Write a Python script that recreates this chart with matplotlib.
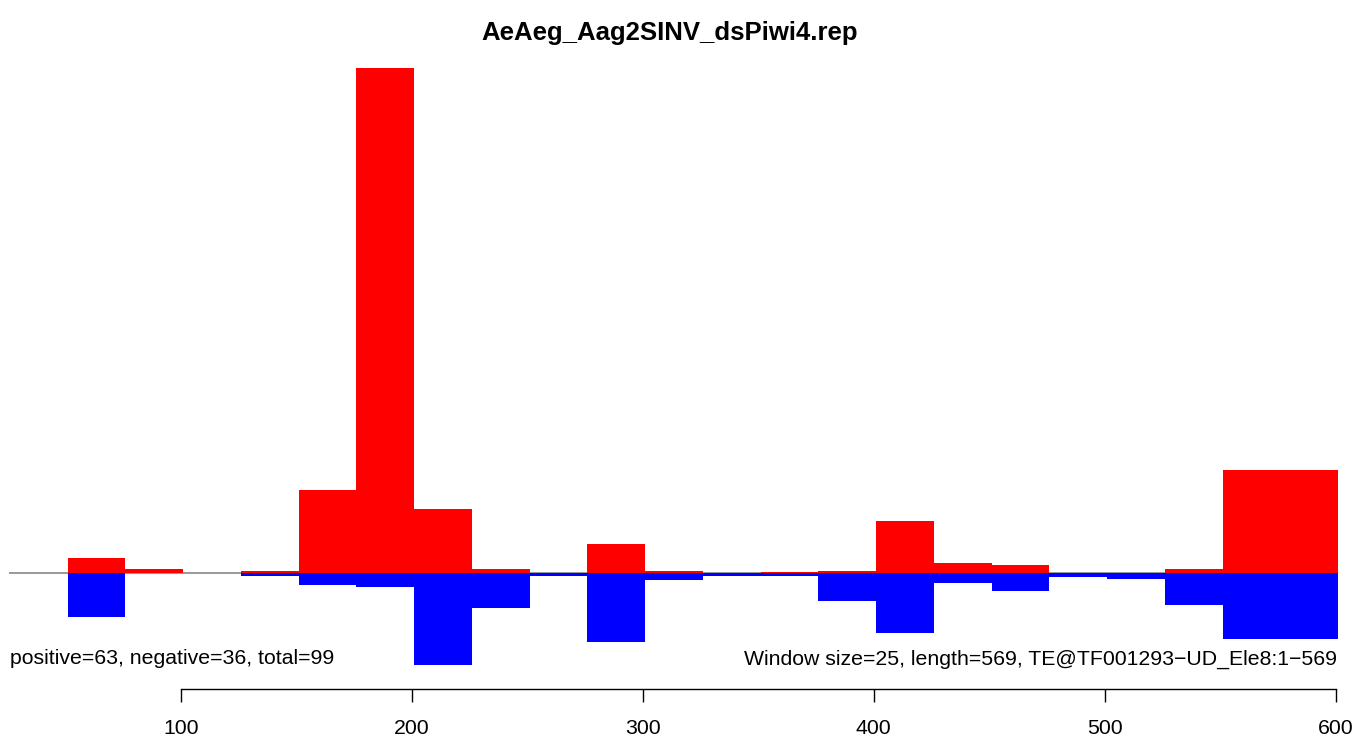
import numpy as np
import matplotlib
matplotlib.use("Agg")
import matplotlib.pyplot as plt

plt.rcParams['font.family'] = ['Liberation Sans', 'DejaVu Sans']

W, H = 1372, 740

title = "AeAeg_Aag2SINV_dsPiwi4.rep"
left_note = "positive=63, negative=36, total=99"
right_note = "Window size=25, length=569, TE@TF001293\u2212UD_Ele8:1\u2212569"

# window start positions (window size 25)
win_start = [51, 76, 101, 126, 151, 176, 201, 226, 251, 276, 301,
             326, 351, 376, 401, 426, 451, 476, 501, 526, 551, 576]
pos_cov = [15, 4, 0, 2, 83, 505, 64, 4, 0, 29, 2,
           0, 1, 2, 52, 10, 8, 0, 0, 4, 103, 103]
neg_cov = [44, 0, 0, 3, 11.5, 14, 92, 35, 2.5, 69, 7,
           3, 3, 28, 60, 10, 18, 4, 6, 32, 66, 66]
win_size = 25
xticks = [100, 200, 300, 400, 500, 600]


def px(x0, y0, x1, y1):
    # pixel box (top-left origin) -> figure fraction rect
    return [x0 / W, 1 - y1 / H, (x1 - x0) / W, (y1 - y0) / H]


fig = plt.figure(figsize=(W / 100, H / 100), dpi=100)
ax = fig.add_axes(px(9.3, 60, 1338, 689))

ax.axhline(0, color="#999999", lw=1.4, zorder=1)
ax.bar(win_start, pos_cov, width=win_size, align="edge", color="#ff0000", lw=0, zorder=2)
ax.bar(win_start, [-v for v in neg_cov], width=win_size, align="edge", color="#0000ff", lw=0, zorder=3)

ax.set_xlim(25.8, 601)
ax.set_ylim(-116, 513)

for s in ["top", "left", "right"]:
    ax.spines[s].set_visible(False)
ax.spines["bottom"].set_bounds(100, 600)
ax.spines["bottom"].set_linewidth(1.0)
ax.set_yticks([])
ax.set_xticks(xticks)
ax.tick_params(axis="x", length=9.4, width=1.0, pad=12.5, labelsize=15.3)

fig.text(670 / W, 1 - 33 / H, title, ha="center", va="center",
         fontsize=18.5, fontweight="bold")
fig.text(10 / W, 1 - 664.3 / H, left_note, ha="left", va="baseline", fontsize=15.3)
fig.text(1337 / W, 1 - 664.3 / H, right_note, ha="right", va="baseline", fontsize=15.3)

fig.savefig("out.png", dpi=100)
